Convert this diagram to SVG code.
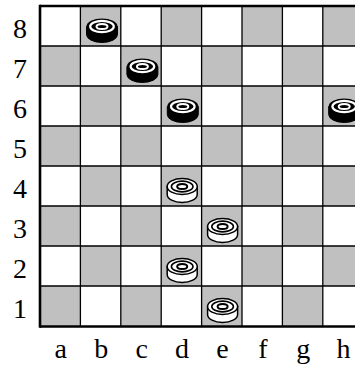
<svg xmlns="http://www.w3.org/2000/svg" width="355" height="367" viewBox="0 0 355 367">
<style>
.g{fill:#c0c0c0}
.ln{stroke:#000;stroke-width:1.3}
.bd{stroke:#000;stroke-width:2.6}
.lbl{font-family:"Liberation Serif","Times New Roman",serif;font-size:28px;fill:#000;text-anchor:middle}
</style>
<defs>
<g id="bp">
<path d="M-15.5 0V8A15.5 8 0 0 0 15.5 8V0Z" fill="#000" stroke="#000" stroke-width="1"/>
<ellipse rx="15.5" ry="8" fill="#000"/>
<ellipse rx="11.8" ry="5.6" fill="none" stroke="#fff" stroke-width="2.2"/>
<ellipse rx="5.5" ry="2.6" fill="none" stroke="#fff" stroke-width="2"/>
</g>
<g id="wp">
<path d="M-15 0V8A15 8 0 0 0 15 8V0Z" fill="#fff" stroke="#000" stroke-width="1.5"/>
<ellipse rx="15" ry="8" fill="#fff" stroke="#000" stroke-width="1.5"/>
<ellipse rx="10.8" ry="5.4" fill="none" stroke="#000" stroke-width="1.6"/>
<ellipse rx="5" ry="2.5" fill="none" stroke="#000" stroke-width="2"/>
</g>
</defs>
<rect width="355" height="367" fill="#fff"/>
<g id="board">
<rect class="g" x="80.4" y="6" width="40.4" height="40"/>
<rect class="g" x="161.2" y="6" width="40.4" height="40"/>
<rect class="g" x="242" y="6" width="40.4" height="40"/>
<rect class="g" x="322.8" y="6" width="40.4" height="40"/>
<rect class="g" x="40" y="46" width="40.4" height="40"/>
<rect class="g" x="120.8" y="46" width="40.4" height="40"/>
<rect class="g" x="201.6" y="46" width="40.4" height="40"/>
<rect class="g" x="282.4" y="46" width="40.4" height="40"/>
<rect class="g" x="80.4" y="86" width="40.4" height="40"/>
<rect class="g" x="161.2" y="86" width="40.4" height="40"/>
<rect class="g" x="242" y="86" width="40.4" height="40"/>
<rect class="g" x="322.8" y="86" width="40.4" height="40"/>
<rect class="g" x="40" y="126" width="40.4" height="40"/>
<rect class="g" x="120.8" y="126" width="40.4" height="40"/>
<rect class="g" x="201.6" y="126" width="40.4" height="40"/>
<rect class="g" x="282.4" y="126" width="40.4" height="40"/>
<rect class="g" x="80.4" y="166" width="40.4" height="40"/>
<rect class="g" x="161.2" y="166" width="40.4" height="40"/>
<rect class="g" x="242" y="166" width="40.4" height="40"/>
<rect class="g" x="322.8" y="166" width="40.4" height="40"/>
<rect class="g" x="40" y="206" width="40.4" height="40"/>
<rect class="g" x="120.8" y="206" width="40.4" height="40"/>
<rect class="g" x="201.6" y="206" width="40.4" height="40"/>
<rect class="g" x="282.4" y="206" width="40.4" height="40"/>
<rect class="g" x="80.4" y="246" width="40.4" height="40"/>
<rect class="g" x="161.2" y="246" width="40.4" height="40"/>
<rect class="g" x="242" y="246" width="40.4" height="40"/>
<rect class="g" x="322.8" y="246" width="40.4" height="40"/>
<rect class="g" x="40" y="286" width="40.4" height="40"/>
<rect class="g" x="120.8" y="286" width="40.4" height="40"/>
<rect class="g" x="201.6" y="286" width="40.4" height="40"/>
<rect class="g" x="282.4" y="286" width="40.4" height="40"/>
<g class="ln">
<line x1="80.4" y1="6" x2="80.4" y2="326"/>
<line x1="120.8" y1="6" x2="120.8" y2="326"/>
<line x1="161.2" y1="6" x2="161.2" y2="326"/>
<line x1="201.6" y1="6" x2="201.6" y2="326"/>
<line x1="242" y1="6" x2="242" y2="326"/>
<line x1="282.4" y1="6" x2="282.4" y2="326"/>
<line x1="322.8" y1="6" x2="322.8" y2="326"/>
<line x1="40" y1="46" x2="355" y2="46"/>
<line x1="40" y1="86" x2="355" y2="86"/>
<line x1="40" y1="126" x2="355" y2="126"/>
<line x1="40" y1="166" x2="355" y2="166"/>
<line x1="40" y1="206" x2="355" y2="206"/>
<line x1="40" y1="246" x2="355" y2="246"/>
<line x1="40" y1="286" x2="355" y2="286"/>
</g>
<g class="bd">
<line x1="40" y1="6" x2="355" y2="6"/>
<line x1="40" y1="326.5" x2="355" y2="326.5"/>
<line x1="40" y1="4.7" x2="40" y2="327.8"/>
</g>
</g>
<g id="labels" class="lbl">
<text x="20" y="37.5">8</text>
<text x="20" y="77.5">7</text>
<text x="20" y="117.5">6</text>
<text x="20" y="157.5">5</text>
<text x="20" y="197.5">4</text>
<text x="20" y="237.5">3</text>
<text x="20" y="277.5">2</text>
<text x="20" y="317.5">1</text>
<text x="60.8" y="358.3">a</text>
<text x="101.2" y="358.3">b</text>
<text x="141.6" y="358.3">c</text>
<text x="182" y="358.3">d</text>
<text x="222.4" y="358.3">e</text>
<text x="262.8" y="358.3">f</text>
<text x="303.2" y="358.3">g</text>
<text x="343.6" y="358.3">h</text>
</g>
<g id="piece-b8"><use href="#bp" x="102" y="26.5"/></g>
<g id="piece-c7"><use href="#bp" x="142.4" y="66.5"/></g>
<g id="piece-d6"><use href="#bp" x="182.8" y="106.5"/></g>
<g id="piece-h6"><use href="#bp" x="344.2" y="106.5"/></g>
<g id="piece-d4"><use href="#wp" x="182.2" y="186.5"/></g>
<g id="piece-e3"><use href="#wp" x="222.6" y="226.5"/></g>
<g id="piece-d2"><use href="#wp" x="182.2" y="266.5"/></g>
<g id="piece-e1"><use href="#wp" x="222.6" y="306.5"/></g>
</svg>
